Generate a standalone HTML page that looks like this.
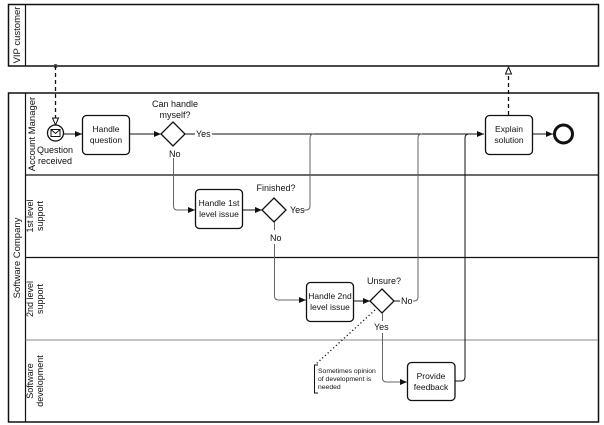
<!DOCTYPE html>
<html><head><meta charset="utf-8"><style>
html,body{margin:0;padding:0;background:#fff;}
svg{display:block;}
text{font-family:"Liberation Sans",sans-serif;fill:#111;}
</style></head><body>
<svg width="604" height="425" viewBox="0 0 604 425" xmlns="http://www.w3.org/2000/svg">
<defs>
<marker id="a" markerWidth="8" markerHeight="8" refX="7" refY="4" orient="auto" markerUnits="userSpaceOnUse"><path d="M0,1 L7,4 L0,7 z" fill="#111"/></marker>
<marker id="h" markerWidth="10" markerHeight="10" refX="8" refY="5" orient="auto" markerUnits="userSpaceOnUse"><path d="M1,2 L8,5 L1,8 z" fill="#fff" stroke="#111" stroke-width="1"/></marker>
</defs>
<rect x="8.5" y="4.5" width="590" height="61.5" fill="#fff" stroke="#111" stroke-width="1.5"/>
<line x1="25.5" y1="4.5" x2="25.5" y2="66" stroke="#111" stroke-width="1.2"/>
<text transform="translate(20,35) rotate(-90)" text-anchor="middle" font-size="9.5">VIP customer</text>
<rect x="8.5" y="93" width="590" height="329" fill="#fff" stroke="#111" stroke-width="1.5"/>
<line x1="25.5" y1="93" x2="25.5" y2="422" stroke="#111" stroke-width="1.2"/>
<text transform="translate(20,258) rotate(-90)" text-anchor="middle" font-size="9.5">Software Company</text>
<line x1="25.5" y1="175" x2="598" y2="175" stroke="#111" stroke-width="1.3"/>
<line x1="25.5" y1="257.5" x2="598" y2="257.5" stroke="#111" stroke-width="1.3"/>
<line x1="25.5" y1="340" x2="598" y2="340" stroke="#888" stroke-width="1"/>
<text transform="translate(35,134) rotate(-90)" text-anchor="middle" font-size="9.5">Account Manager</text>
<text transform="translate(33,216) rotate(-90)" text-anchor="middle" font-size="9">1st level</text>
<text transform="translate(43,216) rotate(-90)" text-anchor="middle" font-size="9">support</text>
<text transform="translate(33,299) rotate(-90)" text-anchor="middle" font-size="9">2nd level</text>
<text transform="translate(43,299) rotate(-90)" text-anchor="middle" font-size="9">support</text>
<text transform="translate(33,381) rotate(-90)" text-anchor="middle" font-size="9">Software</text>
<text transform="translate(43,381) rotate(-90)" text-anchor="middle" font-size="9">development</text>
<circle cx="55.5" cy="66" r="2" fill="#444"/>
<line x1="55.5" y1="66" x2="55.5" y2="125" stroke="#111" stroke-width="1.3" stroke-dasharray="4,3" marker-end="url(#h)"/>
<line x1="508.5" y1="115" x2="508.5" y2="67" stroke="#111" stroke-width="1.3" stroke-dasharray="4,3" marker-end="url(#h)"/>
<circle cx="55.5" cy="133" r="8" fill="#fff" stroke="#111" stroke-width="1.3"/>
<rect x="51" y="129.5" width="9" height="7" fill="none" stroke="#111" stroke-width="1"/>
<path d="M51,129.5 L55.5,133.5 L60,129.5" fill="none" stroke="#111" stroke-width="1"/>
<text x="55" y="153" text-anchor="middle" font-size="9">Question</text>
<text x="55" y="164" text-anchor="middle" font-size="9">received</text>
<line x1="63.5" y1="134" x2="82" y2="134" stroke="#111" marker-end="url(#a)"/>
<rect x="82.5" y="115.5" width="47" height="39" rx="4" fill="#fff" stroke="#111" stroke-width="1.3"/>
<text x="106" y="132" text-anchor="middle" font-size="8.5">Handle</text>
<text x="106" y="143" text-anchor="middle" font-size="8.5">question</text>
<line x1="129.5" y1="134" x2="161" y2="134" stroke="#111" marker-end="url(#a)"/>
<path d="M173,122 L185,134 L173,146 L161,134 z" fill="#fff" stroke="#111" stroke-width="1.3"/>
<text x="175" y="107" text-anchor="middle" font-size="9">Can handle</text>
<text x="175" y="118" text-anchor="middle" font-size="9">myself?</text>
<text x="196" y="137" font-size="9">Yes</text>
<line x1="212" y1="134" x2="484" y2="134" stroke="#111" marker-end="url(#a)"/>
<line x1="185" y1="134" x2="195" y2="134" stroke="#111"/>
<text x="169" y="157" font-size="9">No</text>
<path d="M173.5,158 L173.5,206 Q173.5,210 177.5,210 L195,210" fill="none" stroke="#666" marker-end="url(#a)"/>
<rect x="195.5" y="189.5" width="47" height="39" rx="4" fill="#fff" stroke="#111" stroke-width="1.3"/>
<text x="219" y="206" text-anchor="middle" font-size="8.5">Handle 1st</text>
<text x="219" y="217" text-anchor="middle" font-size="8.5">level issue</text>
<line x1="242.5" y1="210" x2="262" y2="210" stroke="#111" marker-end="url(#a)"/>
<path d="M274,198 L286,210 L274,222 L262,210 z" fill="#fff" stroke="#111" stroke-width="1.3"/>
<text x="276" y="191" text-anchor="middle" font-size="9">Finished?</text>
<text x="290" y="213" font-size="9">Yes</text>
<path d="M304,210 L306,210 Q310,210 310,206 L310,138 Q310,134 314,134" fill="none" stroke="#666"/>
<text x="270" y="241" font-size="9">No</text>
<path d="M274.5,222 L274.5,230 M274.5,244 L274.5,296 Q274.5,300 278.5,300 L306,300" fill="none" stroke="#666" marker-end="url(#a)"/>
<rect x="306.5" y="282.5" width="47" height="39" rx="4" fill="#fff" stroke="#111" stroke-width="1.3"/>
<text x="330" y="299" text-anchor="middle" font-size="8.5">Handle 2nd</text>
<text x="330" y="310" text-anchor="middle" font-size="8.5">level issue</text>
<line x1="353.5" y1="301" x2="370" y2="301" stroke="#111" marker-end="url(#a)"/>
<path d="M382,289 L394,301 L382,313 L370,301 z" fill="#fff" stroke="#111" stroke-width="1.3"/>
<text x="384" y="284" text-anchor="middle" font-size="9">Unsure?</text>
<text x="401" y="304" font-size="9">No</text>
<line x1="394" y1="301" x2="400" y2="301" stroke="#111"/>
<path d="M413,301 L414,301 Q418,301 418,297 L418,138 Q418,134 422,134" fill="none" stroke="#666"/>
<text x="374" y="330" font-size="9">Yes</text>
<path d="M382.5,313 L382.5,321 M382.5,333 L382.5,378 Q382.5,382 386.5,382 L407,382" fill="none" stroke="#666" marker-end="url(#a)"/>
<rect x="407.5" y="362.5" width="47.5" height="38" rx="4" fill="#fff" stroke="#111" stroke-width="1.3"/>
<text x="431" y="379" text-anchor="middle" font-size="8.5">Provide</text>
<text x="431" y="390" text-anchor="middle" font-size="8.5">feedback</text>
<path d="M455,381 L461,381 Q465,381 465,377 L465,138 Q465,134 469,134" fill="none" stroke="#111"/>
<line x1="375" y1="310" x2="316" y2="364" stroke="#111" stroke-width="1.3" stroke-dasharray="1.2,2.5"/>
<path d="M318,365 L314.5,365 L314.5,393 L318,393" fill="none" stroke="#111" stroke-width="1"/>
<text x="318" y="373" font-size="6.8">Sometimes opinion</text>
<text x="318" y="381" font-size="6.8">of development is</text>
<text x="318" y="389" font-size="6.8">needed</text>
<rect x="485.5" y="115.5" width="47" height="39" rx="4" fill="#fff" stroke="#111" stroke-width="1.3"/>
<text x="509" y="132" text-anchor="middle" font-size="8.5">Explain</text>
<text x="509" y="143" text-anchor="middle" font-size="8.5">solution</text>
<line x1="532.5" y1="134" x2="553" y2="134" stroke="#111" marker-end="url(#a)"/>
<circle cx="563.5" cy="134" r="9" fill="#fff" stroke="#111" stroke-width="3"/>
</svg>
</body></html>
